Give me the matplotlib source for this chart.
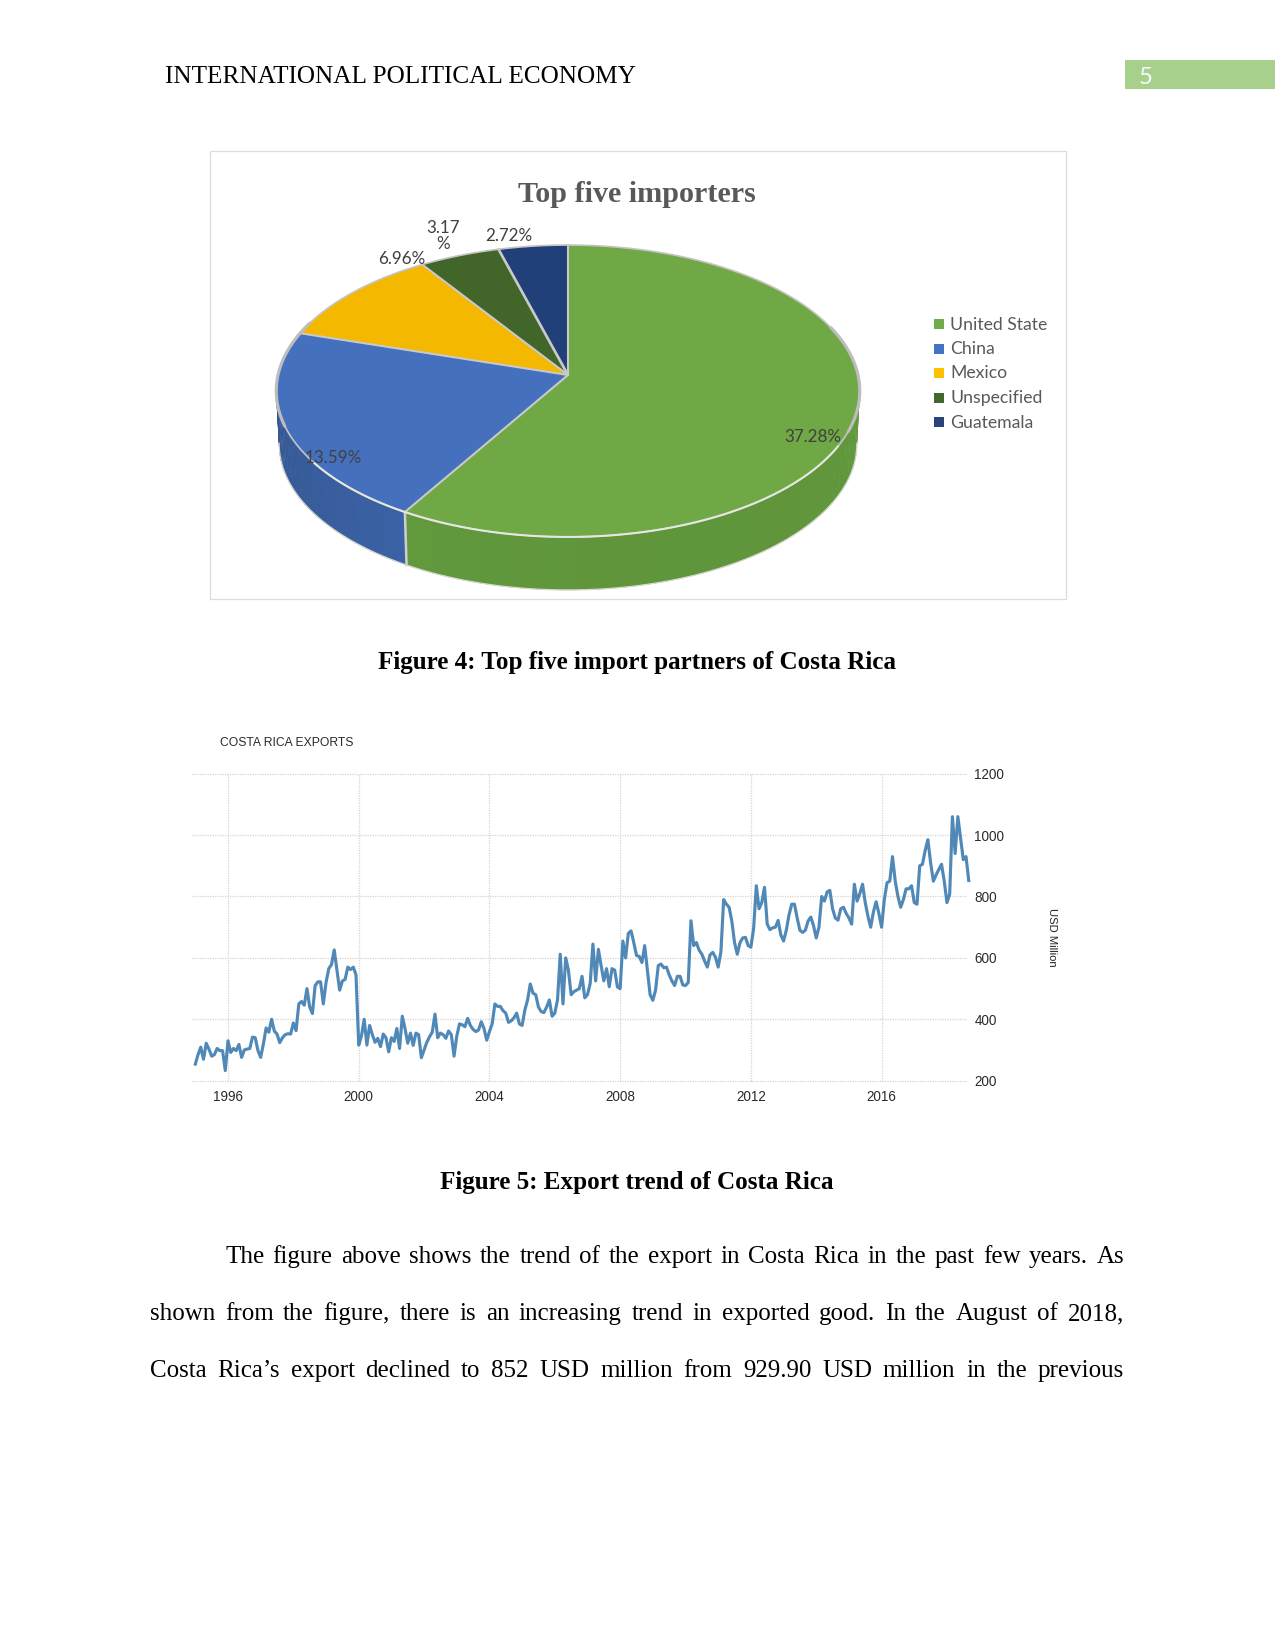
#!/usr/bin/env python
import numpy as np
import pandas as pd
import matplotlib
matplotlib.use("Agg")
import matplotlib.pyplot as plt
from matplotlib.patches import Rectangle

# pie data
partners = ["United State", "China", "Mexico", "Unspecified", "Guatemala"]
shares = [37.28, 13.59, 6.96, 3.17, 2.72]
share_labels = ["37.28%", "13.59%", "6.96%", "3.17\n%", "2.72%"]
top_colors = ["#6fa845", "#4470bd", "#f4b800", "#42652a", "#213f78"]
legend_colors = ["#70ad47", "#4472c4", "#ffc000", "#43682b", "#2a4478"]

# monthly exports, USD million
exports_1995 = [254, 285, 309, 270, 322, 303, 280, 285, 305, 298, 298, 233]
exports_1996 = [330, 292, 305, 298, 318, 276, 300, 303, 305, 342, 340, 298]
exports_1997 = [276, 320, 372, 358, 400, 362, 352, 324, 340, 350, 353, 352]
exports_1998 = [388, 363, 450, 458, 446, 500, 440, 419, 510, 522, 522, 450]
exports_1999 = [520, 565, 578, 626, 560, 495, 525, 530, 570, 562, 570, 545]
exports_2000 = [316, 345, 400, 316, 380, 350, 325, 338, 311, 352, 340, 294]
exports_2001 = [340, 328, 370, 305, 410, 370, 322, 355, 315, 355, 350, 275]
exports_2002 = [300, 325, 343, 358, 417, 340, 355, 350, 338, 362, 350, 280]
exports_2003 = [345, 385, 382, 376, 403, 380, 367, 360, 365, 392, 370, 332]
exports_2004 = [360, 385, 450, 442, 442, 428, 420, 390, 395, 405, 420, 385]
exports_2005 = [380, 430, 463, 515, 485, 480, 440, 425, 422, 440, 463, 410]
exports_2006 = [420, 463, 612, 450, 600, 560, 480, 490, 495, 500, 540, 470]
exports_2007 = [480, 517, 645, 525, 628, 575, 525, 565, 506, 565, 560, 505]
exports_2008 = [500, 655, 600, 680, 688, 650, 608, 605, 585, 640, 560, 480]
exports_2009 = [462, 495, 575, 580, 568, 570, 545, 525, 510, 540, 540, 512]
exports_2010 = [510, 520, 721, 640, 650, 625, 612, 590, 570, 610, 618, 602]
exports_2011 = [570, 620, 790, 775, 765, 720, 650, 612, 650, 665, 667, 640]
exports_2012 = [635, 695, 835, 760, 780, 830, 710, 692, 698, 700, 722, 675]
exports_2013 = [655, 690, 740, 775, 775, 730, 690, 683, 690, 720, 733, 705]
exports_2014 = [665, 700, 800, 785, 815, 820, 760, 730, 723, 760, 765, 745]
exports_2015 = [730, 710, 840, 785, 810, 840, 780, 735, 700, 750, 783, 745]
exports_2016 = [700, 790, 845, 850, 930, 850, 800, 765, 790, 825, 825, 835]
exports_2017 = [780, 775, 900, 905, 950, 985, 910, 850, 870, 888, 905, 850]
exports_2018 = [780, 808, 1060, 940, 1060, 990, 920, 930, 852]
exports = (exports_1995 + exports_1996 + exports_1997 + exports_1998 + exports_1999
           + exports_2000 + exports_2001 + exports_2002 + exports_2003 + exports_2004
           + exports_2005 + exports_2006 + exports_2007 + exports_2008 + exports_2009
           + exports_2010 + exports_2011 + exports_2012 + exports_2013 + exports_2014
           + exports_2015 + exports_2016 + exports_2017 + exports_2018)
year_ticks = [1996, 2000, 2004, 2008, 2012, 2016]
value_ticks = [200, 400, 600, 800, 1000, 1200]

body_lines = [
    "The figure above shows the trend of the export in Costa Rica in the past few years. As",
    "shown from the figure, there is an increasing trend in exported good. In the August of 2018,",
    "Costa Rica\u2019s export declined to 852 USD million from 929.90 USD million in the previous",
]

W, H = 1275, 1650
fig = plt.figure(figsize=(8.5, 11), dpi=150)
page = fig.add_axes([0, 0, 1, 1])
page.set_xlim(0, W)
page.set_ylim(H, 0)
page.axis("off")

SERIF = "Liberation Serif"
SANS = "Liberation Sans"

# header
page.add_patch(Rectangle((1125, 60), 150, 29, fc="#a8d08d", ec="none"))
page.text(1146, 77, "5", color="#f6faf2", fontsize=11.5, family="Lato", ha="center", va="center")
page.text(165, 77, "INTERNATIONAL POLITICAL ECONOMY", fontsize=12.13, family=SERIF, va="center", color="black")

# pie frame
page.add_patch(Rectangle((209.5, 150.5), 856.5, 448.5, fc="white", ec="#dcdcdc", lw=0.6))
page.text(637, 194, "Top five importers", fontsize=14.45, family=SERIF, weight="bold", color="#595959",
          ha="center", va="center")

# the pie lies in perspective: apex, radius and foreshortening
CX, CY, RX, A, K, DEPTH = 568, 375, 290, 144.2, 0.1096, 53


def rim(deg, drop=0, shrink=1.0):
    # deg runs clockwise from 12 o'clock
    t = np.radians(deg)
    s, c = np.sin(t), np.cos(t)
    d = 1 + K * c
    return CX + shrink * RX * s / d, CY - A * c / d + drop


stops = np.concatenate([[0], np.cumsum(shares) / np.sum(shares) * 360])


def shade(col, f):
    rgb = np.array(matplotlib.colors.to_rgb(col))
    return tuple(rgb * f)


# side wall in bands, only the front half
wall_from = [96, stops[1]]
wall_to = [stops[1], 264]
wall_base = ["#6aa542", "#3f69b0"]
for i in range(2):
    edges = np.linspace(wall_from[i], wall_to[i], 41)
    for j in range(40):
        th = np.linspace(edges[j], edges[j + 1] + 0.2, 4)
        x1, y1 = rim(th)
        x2, y2 = rim(th, DEPTH, 0.99)
        if i == 0:
            f = 0.93 - 0.03 * np.sin(j / 40 * np.pi)
        else:
            f = 0.93 - 0.10 * j / 40
        page.fill(np.r_[x1, x2[::-1]], np.r_[y1, y2[::-1]], color=shade(wall_base[i], f), lw=0.2, zorder=2)

th = np.linspace(96, 264, 200)
xb, yb = rim(th, DEPTH, 0.99)
page.plot(xb, yb, color="#d5d9cf", lw=0.6, zorder=3)
xd, yd = rim(stops[1])
xe, ye = rim(stops[1], DEPTH, 0.99)
page.plot([xd, xe], [yd, ye], color="#cfcfcf", lw=1.2, zorder=3)

# top face
for i in range(5):
    th = np.linspace(stops[i], stops[i + 1], 120)
    x, y = rim(th)
    page.fill(np.r_[CX, x], np.r_[CY, y], color=top_colors[i], lw=0, zorder=4)
for i in range(5):
    x, y = rim(stops[i])
    page.plot([CX, x], [CY, y], color="#c9c9c9", lw=1.0 if i != 4 else 1.3, zorder=5, solid_capstyle="round")
th = np.linspace(0, 360, 400)
x, y = rim(th)
page.plot(x, y, color="#c4c4c4", lw=0.8, zorder=5)
# rim reads heavier at the two sides, pale along the front
for a, b in [(70, 112), (250, 292)]:
    th = np.linspace(a, b, 60)
    x, y = rim(th)
    page.plot(x, y, color="#bdbdbd", lw=1.5, zorder=5, solid_capstyle="round")
th = np.linspace(118, 235, 100)
x, y = rim(th)
page.plot(x, y, color="#e4e6e0", lw=1.0, zorder=6)

# data labels
label_x = [813, 333, 402, 443, 509]
label_y = [437, 458, 259, 236, 236]
for i in range(5):
    page.text(label_x[i], label_y[i], share_labels[i], fontsize=8.2, family="Lato", color="#404040",
              ha="center", va="center", zorder=8, linespacing=1.0)

# legend
legend_y = [324, 348.5, 373, 397.5, 422]
for i in range(5):
    page.add_patch(Rectangle((934, legend_y[i] - 5), 10, 10, fc=legend_colors[i], ec="none"))
    page.text(950, legend_y[i] + 0.5, partners[i], fontsize=8.45, family="Lato", color="#595959", va="center")

page.text(637, 662, "Figure 4: Top five import partners of Costa Rica", fontsize=12.07, family=SERIF,
          weight="bold", ha="center", va="center")
page.text(637, 1183, "Figure 5: Export trend of Costa Rica", fontsize=12.07, family=SERIF,
          weight="bold", ha="center", va="center")

# export chart
L, R, T, B = 192, 967, 773.7, 1080.7
ax = fig.add_axes([L / W, 1 - B / H, (R - L) / W, (B - T) / H])
dates = pd.date_range("1995-01-01", periods=len(exports), freq="MS")
years = dates.year + (dates.month - 1) / 12
ax.plot(years, exports, color="#4682b4", lw=1.5, solid_joinstyle="round", zorder=3, alpha=0.95, clip_on=False)
ax.set_xlim(1996 + (L - 228) / 32.68, 1996 + (R - 228) / 32.68)
ax.set_ylim(200, 1200)
ax.set_xticks(year_ticks)
ax.set_yticks(value_ticks)
ax.yaxis.tick_right()
ax.grid(True, color="#d4d4d4", lw=0.6, ls=(0, (1, 1)))
for gl in ax.get_xgridlines() + ax.get_ygridlines():
    gl.set_clip_on(False)
ax.tick_params(length=0, labelsize=6.5, labelcolor="#2a2a2a", pad=4.5)
ax.tick_params(axis="y", pad=3.5)
for lab in ax.get_xticklabels() + ax.get_yticklabels():
    lab.set_family(SANS)
for sp in ax.spines.values():
    sp.set_visible(False)
ax.patch.set_alpha(0)
page.text(220, 743, "COSTA RICA EXPORTS", fontsize=5.8, family=SANS, color="#2a2a2a", va="center")
page.text(1052, 937, "USD Million", fontsize=5.4, family=SANS, color="#222222", rotation=270,
          ha="center", va="center")

# justified body text
rend = fig.canvas.get_renderer()
line_y = [1257, 1314, 1371]
line_left = [225, 150, 150]
RIGHT = 1124
for i in range(3):
    words = body_lines[i].split(" ")
    objs = [page.text(0, line_y[i], w, fontsize=12, family=SERIF, va="center") for w in words]
    widths = [o.get_window_extent(rend).width for o in objs]
    gap = (RIGHT - line_left[i] - sum(widths)) / (len(words) - 1)
    pos = line_left[i]
    for o, w in zip(objs, widths):
        o.set_x(pos)
        pos += w + gap

fig.savefig("out.png", dpi=150)
